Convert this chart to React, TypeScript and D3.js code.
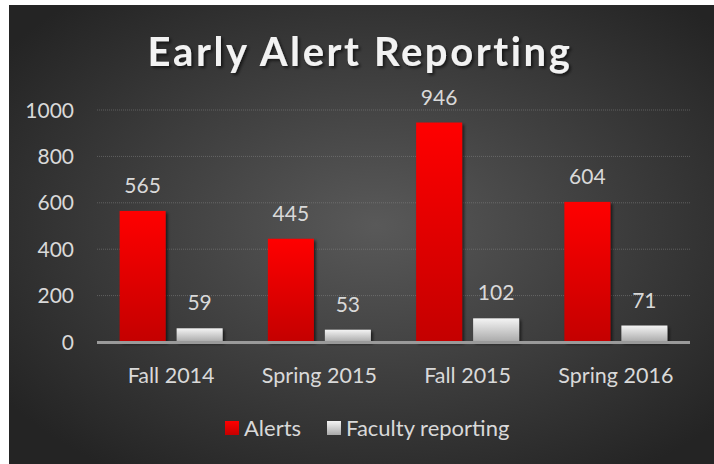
import React, { useEffect, useRef } from "react";
import * as d3 from "d3";

const categories = ["Fall 2014", "Spring 2015", "Fall 2015", "Spring 2016"];
const seriesNames = ["Alerts", "Faculty reporting"];
const alerts = [565, 445, 946, 604];
const faculty = [59, 53, 102, 71];
const yTicks = [0, 200, 400, 600, 800, 1000];

const svgWidth = 714;
const svgHeight = 464;
const FONT = "Lato, 'Open Sans', sans-serif";

function App() {
  const svgRef = useRef<SVGSVGElement>(null);

  useEffect(() => {
    const svg = d3.select(svgRef.current);
    svg.selectAll("*").remove();

    const defs = svg.append("defs");
    const bg = defs
      .append("radialGradient")
      .attr("id", "bg")
      .attr("cx", "52%")
      .attr("cy", "48%")
      .attr("r", "65%");
    bg.append("stop").attr("offset", "0%").attr("stop-color", "#595959");
    bg.append("stop").attr("offset", "100%").attr("stop-color", "#242424");

    const red = defs
      .append("linearGradient")
      .attr("id", "red")
      .attr("x1", 0)
      .attr("y1", 0)
      .attr("x2", 0)
      .attr("y2", 1);
    red.append("stop").attr("offset", "0%").attr("stop-color", "#ff0000");
    red.append("stop").attr("offset", "100%").attr("stop-color", "#c40000");

    const grey = defs
      .append("linearGradient")
      .attr("id", "grey")
      .attr("x1", 0)
      .attr("y1", 0)
      .attr("x2", 0)
      .attr("y2", 1);
    grey.append("stop").attr("offset", "0%").attr("stop-color", "#f4f4f4");
    grey.append("stop").attr("offset", "100%").attr("stop-color", "#a9a9a9");

    const shadow = defs.append("filter").attr("id", "shadow").attr("x", "-10%").attr("y", "-10%").attr("width", "130%").attr("height", "140%");
    shadow
      .append("feDropShadow")
      .attr("dx", 2)
      .attr("dy", 2)
      .attr("stdDeviation", 1.5)
      .attr("flood-color", "#000")
      .attr("flood-opacity", 0.6);

    svg
      .append("rect")
      .attr("x", 9)
      .attr("y", 5)
      .attr("width", svgWidth - 9)
      .attr("height", svgHeight - 5)
      .attr("fill", "url(#bg)");

    const x0 = d3.scaleBand().domain(categories).range([97, 690]);
    const x1 = d3
      .scaleBand()
      .domain(seriesNames)
      .range([0, x0.bandwidth()])
      .paddingInner(0.193)
      .paddingOuter(0.397);
    const y = d3.scaleLinear().domain([0, 1000]).range([342, 110]);

    // gridlines
    svg
      .append("g")
      .selectAll("line")
      .data(yTicks.filter((t) => t > 0))
      .enter()
      .append("line")
      .attr("x1", 97)
      .attr("x2", 690)
      .attr("y1", (d) => y(d))
      .attr("y2", (d) => y(d))
      .attr("stroke", "#8a8a8a")
      .attr("stroke-opacity", 0.5)
      .attr("stroke-width", 1)
      .attr("stroke-dasharray", "1,1");

    // y tick labels
    svg
      .append("g")
      .selectAll("text")
      .data(yTicks)
      .enter()
      .append("text")
      .attr("x", 74)
      .attr("y", (d) => y(d) + 7.5)
      .attr("text-anchor", "end")
      .attr("fill", "#d9d9d9")
      .style("font-family", FONT)
      .style("font-size", "21px")
      .text((d) => d);

    const rows = categories.map((c, i) => ({
      cat: c,
      values: [
        { key: seriesNames[0], value: alerts[i], fill: "url(#red)" },
        { key: seriesNames[1], value: faculty[i], fill: "url(#grey)" },
      ],
    }));

    const groups = svg
      .append("g")
      .selectAll("g")
      .data(rows)
      .enter()
      .append("g")
      .attr("transform", (d) => `translate(${x0(d.cat)},0)`);

    groups
      .selectAll("rect")
      .data((d) => d.values)
      .enter()
      .append("rect")
      .attr("x", (d) => x1(d.key)!)
      .attr("width", x1.bandwidth())
      .attr("y", (d) => y(d.value))
      .attr("height", (d) => y(0) - y(d.value))
      .attr("fill", (d) => d.fill)
      .attr("filter", "url(#shadow)");

    groups
      .selectAll("text")
      .data((d) => d.values)
      .enter()
      .append("text")
      .attr("x", (d) => x1(d.key)! + x1.bandwidth() / 2)
      .attr("y", (d) => y(d.value) - 18)
      .attr("text-anchor", "middle")
      .attr("fill", "#d9d9d9")
      .style("font-family", FONT)
      .style("font-size", "21px")
      .text((d) => d.value);

    // baseline
    svg
      .append("rect")
      .attr("x", 97)
      .attr("y", y(0) - 1)
      .attr("width", 593)
      .attr("height", 3)
      .attr("fill", "#9a9a9a");

    // category labels
    svg
      .append("g")
      .selectAll("text")
      .data(categories)
      .enter()
      .append("text")
      .attr("x", (d) => x0(d)! + x0.bandwidth() / 2)
      .attr("y", 383)
      .attr("text-anchor", "middle")
      .attr("fill", "#d9d9d9")
      .style("font-family", FONT)
      .style("font-size", "21.5px")
      .text((d) => d);

    // title
    svg
      .append("text")
      .attr("x", 360)
      .attr("y", 66)
      .attr("text-anchor", "middle")
      .attr("fill", "#f2f2f2")
      .attr("filter", "url(#shadow)")
      .style("font-family", FONT)
      .style("font-weight", "bold")
      .style("font-size", "40px")
      .style("letter-spacing", "2.6px")
      .text("Early Alert Reporting");

    // legend
    const legendItems = [
      { name: seriesNames[0], fill: "url(#red)", x: 225 },
      { name: seriesNames[1], fill: "url(#grey)", x: 327 },
    ];
    const legend = svg
      .append("g")
      .selectAll("g")
      .data(legendItems)
      .enter()
      .append("g")
      .attr("transform", (d) => `translate(${d.x},421)`);
    legend
      .append("rect")
      .attr("width", 14)
      .attr("height", 14)
      .attr("fill", (d) => d.fill);
    legend
      .append("text")
      .attr("x", 19)
      .attr("y", 15)
      .attr("fill", "#d9d9d9")
      .style("font-family", FONT)
      .style("font-size", "22px")
      .text((d) => d.name);
  }, []);

  return (
    <div style={{ position: "absolute", left: 0, top: 0 }}>
      <svg ref={svgRef} width={svgWidth} height={svgHeight} style={{ display: "block" }}></svg>
    </div>
  );
}

export default App;
